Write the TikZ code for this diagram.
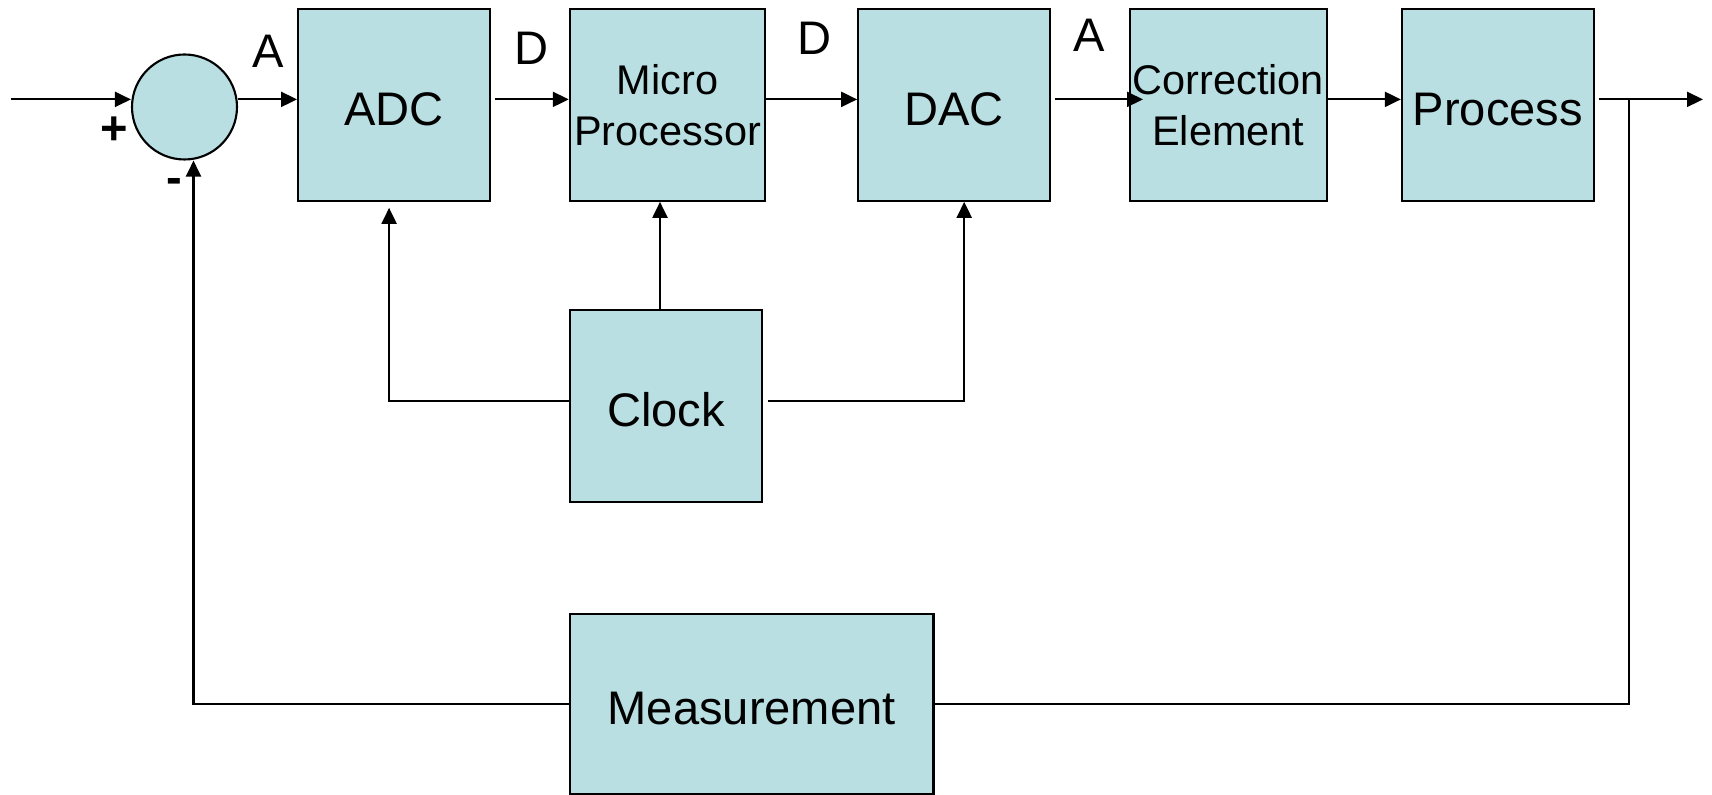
\documentclass[tikz,border=0pt]{standalone}
\usepackage{fontspec}
\setmainfont{Liberation Sans}
\usepackage{tikz}
\usetikzlibrary{arrows.meta,positioning,calc}
\definecolor{boxfill}{RGB}{185,223,227}

\begin{document}
\begin{tikzpicture}[>={Triangle[length=1.6mm,width=1.5mm]},line width=0.6pt,
every node/.style={font=\fontsize{13.4}{16}\selectfont},
block/.style={draw, fill=boxfill, minimum width=1.92cm, minimum height=1.92cm, inner sep=0pt},
oneline/.style={block, text height=0.42cm, text depth=0pt},
twoline/.style={block, align=center, font=\fontsize{11.8}{14.5}\selectfont},
sumnode/.style={draw, circle, fill=boxfill, minimum size=1.05cm, inner sep=0pt},
sign/.style={inner sep=0pt, font=\fontsize{13.4}{16}\selectfont\bfseries}]
\useasboundingbox (0,0) rectangle (17.12,-7.95);
% summing junction
\node[sumnode] (sum) at (1.845,-1.07) {};
\coordinate (in) at (0.11,-0.994);
\coordinate (out) at (17.03,-0.994);
% forward blocks
\node[oneline] (adc) at (3.941,-1.048) {ADC};
\node[twoline, minimum width=1.955cm] (micro) at (6.676,-1.048) {Micro\\Processor};
\node[oneline] (dac) at (9.542,-1.048) {DAC};
\node[twoline, minimum width=1.965cm] (corr) at (12.283,-1.048) {Correction\\Element};
\node[oneline] (proc) at (14.979,-1.048) {Process};
% clock and measurement
\node[oneline] (clock) at (6.66,-4.06) {Clock};
\node[oneline, minimum width=3.636cm, minimum height=1.8cm] (meas) at (7.517,-7.04) {Measurement};
% signal labels
\node (la1) at (2.686,-0.513) {A};
\node (ld1) at (5.317,-0.48) {D};
\node (ld2) at (8.145,-0.382) {D};
\node (la2) at (10.896,-0.349) {A};
\node[sign] (lplus) at (1.146,-1.31) {+};
\node[sign] (lminus) at (1.747,-1.856) {-};
% forward path
\draw[->] (in) -- (in -| sum.west);
\draw[->] (sum.east |- in) -- (in -| adc.west);
\draw[->] ([xshift=0.04cm]adc.east |- in) -- (in -| micro.west);
\draw[->] (micro.east |- in) -- (in -| dac.west);
\draw[->] ([xshift=0.04cm]dac.east |- in) -- ([xshift=0.14cm]in -| corr.west);
\draw[->] (corr.east |- in) -- (in -| proc.west);
\draw[->] ([xshift=0.04cm]proc.east |- in) -- (out);
% feedback
\coordinate (br) at (16.29,-0.994);
\draw (br) |- (meas.east);
\draw[->] (meas.west) -| ([xshift=0.09cm]sum.south);
% clock lines
\draw[->] ([yshift=0.05cm]clock.west) -| ([xshift=-0.05cm,yshift=-0.06cm]adc.south);
\draw[->] ([xshift=-0.06cm]clock.north) coordinate (cn) -- (cn |- micro.south);
\draw[->] ([xshift=0.05cm,yshift=0.05cm]clock.east) -| ([xshift=0.1cm]dac.south);
\end{tikzpicture}
\end{document}
